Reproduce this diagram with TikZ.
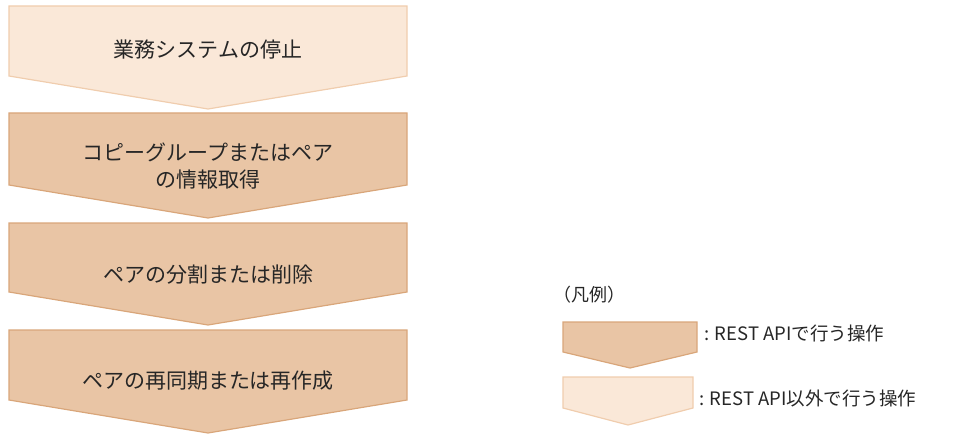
\documentclass[tikz,border=0pt]{standalone}
\usepackage{fontspec}
\setmainfont{Noto Sans CJK JP}
\definecolor{lightfill}{HTML}{FAE8D8}
\definecolor{lightline}{HTML}{F0CDAE}
\definecolor{darkfill}{HTML}{E9C5A5}
\definecolor{darkline}{HTML}{D9A67A}
\tikzset{
  lightchev/.style={fill=lightfill,draw=lightline,line width=1.2pt,line join=miter},
  darkchev/.style={fill=darkfill,draw=darkline,line width=1.2pt,line join=miter},
  steptext/.style={font=\fontsize{21}{27}\selectfont,align=center,text=black!85,inner sep=0pt},
  legtext/.style={font=\fontsize{18.5}{24}\selectfont,anchor=west,text=black!85,inner sep=0pt},
  legtitle/.style={font=\fontsize{18}{24}\selectfont,anchor=west,text=black!85,inner sep=0pt}
}
\newcommand{\chevshape}[6]{%
  \path[#6] (#1,#3) -- (#2,#3) -- (#2,#4) -- ({(#1+#2)/2},#5) -- (#1,#4) -- cycle;}
\begin{document}
\begin{tikzpicture}[x=1pt,y=-1pt]
\useasboundingbox (0,0) rectangle (954,436);
\chevshape{9}{407}{6}{76}{109}{lightchev}
\chevshape{9}{407}{113}{185}{218}{darkchev}
\chevshape{9}{407}{223}{292}{325}{darkchev}
\chevshape{9}{407}{330}{400}{433}{darkchev}
\node[steptext] (s1) at (208,50) {業務システムの停止};
\node[steptext] (s2) at (208,166) {コピーグループまたはペア\\の情報取得};
\node[steptext] (s3) at (208,275) {ペアの分割または削除};
\node[steptext] (s4) at (208,381) {ペアの再同期または再作成};
\node[legtitle] (lt) at (553,295) {（凡例）};
\chevshape{563}{697}{322}{352}{368}{darkchev}
\chevshape{563}{693}{377}{408}{425}{lightchev}
\node[legtext] (l1) at (704,333) {: REST APIで行う操作};
\node[legtext] (l2) at (699,398) {: REST API以外で行う操作};
\end{tikzpicture}
\end{document}
